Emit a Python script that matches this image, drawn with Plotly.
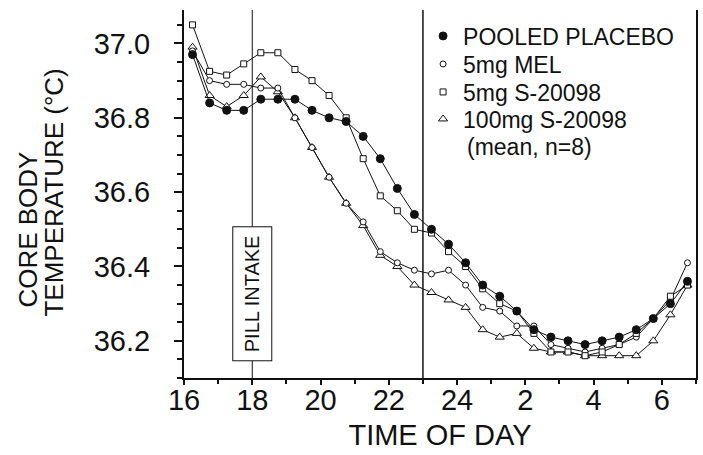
import plotly.graph_objects as go

# ---- data ----
times = [16.25, 16.75, 17.25, 17.75, 18.25, 18.75, 19.25, 19.75, 20.25, 20.75,
         21.25, 21.75, 22.25, 22.75, 23.25, 23.75, 24.25, 24.75, 25.25, 25.75,
         26.25, 26.75, 27.25, 27.75, 28.25, 28.75, 29.25, 29.75, 30.25, 30.75]

placebo = [36.97, 36.84, 36.82, 36.82, 36.85, 36.85, 36.85, 36.82, 36.80, 36.79,
           36.75, 36.69, 36.61, 36.54, 36.50, 36.46, 36.41, 36.35, 36.32, 36.28,
           36.23, 36.21, 36.20, 36.19, 36.20, 36.21, 36.23, 36.26, 36.30, 36.36]

mel_5mg = [36.98, 36.90, 36.89, 36.89, 36.88, 36.88, 36.80, 36.72, 36.64, 36.57,
           36.52, 36.44, 36.41, 36.39, 36.38, 36.39, 36.35, 36.29, 36.28, 36.24,
           36.24, 36.19, 36.18, 36.17, 36.18, 36.19, 36.21, 36.26, 36.31, 36.41]

s20098_5mg = [37.05, 36.925, 36.915, 36.945, 36.975, 36.975, 36.93, 36.90, 36.86, 36.80,
              36.69, 36.59, 36.55, 36.50, 36.49, 36.44, 36.40, 36.34, 36.30, 36.28,
              36.22, 36.17, 36.17, 36.16, 36.17, 36.19, 36.22, 36.26, 36.32, 36.35]

s20098_100mg = [36.99, 36.86, 36.83, 36.86, 36.91, 36.87, 36.80, 36.72, 36.64, 36.57,
                36.51, 36.43, 36.40, 36.35, 36.33, 36.31, 36.29, 36.23, 36.21, 36.22,
                36.18, 36.17, 36.17, 36.16, 36.16, 36.16, 36.16, 36.20, 36.27, 36.35]

x_tickvals = [16, 18, 20, 22, 24, 26, 28, 30]
x_ticktext = ["16", "18", "20", "22", "24", "2", "4", "6"]
y_tickvals = [36.2, 36.4, 36.6, 36.8, 37.0]
y_ticktext = ["36.2", "36.4", "36.6", "36.8", "37.0"]

legend_names = ["POOLED PLACEBO", "5mg MEL", "5mg S-20098", "100mg S-20098"]

FONT = "Liberation Sans, Arial, Helvetica, sans-serif"
INK = "#111111"

# plot area in pixels
L, R, T, B = 184, 698, 10, 378
W, H = R - L, B - T


def px_x(px):
    return (px - L) / W


def px_y(py):
    return (B - py) / H


series = [
    (placebo, dict(symbol="circle", size=8, color=INK, line=dict(color=INK, width=1))),
    (mel_5mg, dict(symbol="circle", size=6, color="white", line=dict(color=INK, width=1))),
    (s20098_5mg, dict(symbol="square", size=6, color="white", line=dict(color=INK, width=1))),
    (s20098_100mg, dict(symbol="triangle-up", size=8, color="white", line=dict(color=INK, width=1))),
]
legend_markers = [
    dict(symbol="circle", size=8, color=INK, line=dict(color=INK, width=1)),
    dict(symbol="circle", size=6, color="white", line=dict(color=INK, width=1)),
    dict(symbol="square", size=6, color="white", line=dict(color=INK, width=1)),
    dict(symbol="triangle-up", size=8, color="white", line=dict(color=INK, width=1)),
]
legend_rows_px = [36, 64, 92, 119]

fig = go.Figure()

for vals, mk in [series[3], series[1], series[2], series[0]]:
    fig.add_trace(go.Scatter(x=times, y=vals, mode="lines+markers",
                             line=dict(color=INK, width=1), marker=mk,
                             showlegend=False, hoverinfo="skip", cliponaxis=False))

legend_ids = ["legend", "legend2", "legend3", "legend4"]
for lid, name, mk in zip(legend_ids, legend_names, legend_markers):
    fig.add_trace(go.Scatter(x=[None], y=[None], mode="markers", marker=mk,
                             name=name, showlegend=True, legend=lid))

# vertical reference lines
fig.add_shape(type="line", xref="x", yref="paper", x0=18, x1=18, y0=0, y1=1,
              line=dict(color=INK, width=1))
fig.add_shape(type="line", xref="x", yref="paper", x0=23, x1=23, y0=0, y1=1,
              line=dict(color=INK, width=1.5))

# pill intake box
fig.add_annotation(x=18, xref="x", y=px_y(294), yref="paper", text="PILL INTAKE",
                   textangle=-90, showarrow=False, bgcolor="white",
                   xanchor="center", yanchor="middle",
                   bordercolor=INK, borderwidth=1, borderpad=8,
                   font=dict(family=FONT, size=20, color=INK))

# legend footnote
fig.add_annotation(x=px_x(466), xref="paper", y=px_y(147), yref="paper",
                   text="(mean, n=8)", showarrow=False, xanchor="left", yanchor="middle",
                   font=dict(family=FONT, size=23, color=INK))

# y axis title, two lines
fig.add_annotation(x=px_x(27), xref="paper", y=px_y(230), yref="paper", text="CORE BODY",
                   textangle=-90, showarrow=False, xanchor="center", yanchor="middle",
                   font=dict(family=FONT, size=26, color=INK))
fig.add_annotation(x=px_x(53), xref="paper", y=px_y(193), yref="paper", text="TEMPERATURE (°C)",
                   textangle=-90, showarrow=False, xanchor="center", yanchor="middle",
                   font=dict(family=FONT, size=26, color=INK))

legend_layout = {}
for lid, ypx in zip(legend_ids, legend_rows_px):
    legend_layout[lid] = dict(x=px_x(424), y=px_y(ypx), xanchor="left", yanchor="middle",
                              font=dict(family=FONT, size=23, color=INK),
                              bgcolor="rgba(0,0,0,0)", borderwidth=0,
                              itemsizing="trace")

fig.update_layout(
    width=703, height=455,
    margin=dict(l=L, r=703 - R, t=T, b=455 - B),
    paper_bgcolor="white", plot_bgcolor="white",
    font=dict(family=FONT, color=INK),
    showlegend=True,
    **legend_layout,
    xaxis=dict(range=[16, 31], tickvals=x_tickvals, ticktext=x_ticktext,
               ticks="outside", ticklen=5, tickwidth=2, tickcolor=INK,
               minor=dict(dtick=1, tick0=16, ticks="outside", ticklen=4, tickwidth=2, tickcolor=INK),
               showline=True, linecolor=INK, linewidth=2, showgrid=False, zeroline=False,
               ticklabelstandoff=-10,
               tickfont=dict(family=FONT, size=29, color=INK),
               title=dict(text="TIME OF DAY", font=dict(family=FONT, size=29, color=INK), standoff=10)),
    yaxis=dict(range=[36.1, 37.09], tickvals=y_tickvals, ticktext=y_ticktext,
               ticks="outside", ticklen=8, tickwidth=2, tickcolor=INK,
               minor=dict(dtick=0.05, tick0=36.1, ticks="outside", ticklen=5, tickwidth=2, tickcolor=INK),
               showline=True, linecolor=INK, linewidth=2, mirror=True,
               showgrid=False, zeroline=False, ticklabelstandoff=18,
               tickfont=dict(family=FONT, size=29, color=INK)),
)

fig.write_html("out.html")
